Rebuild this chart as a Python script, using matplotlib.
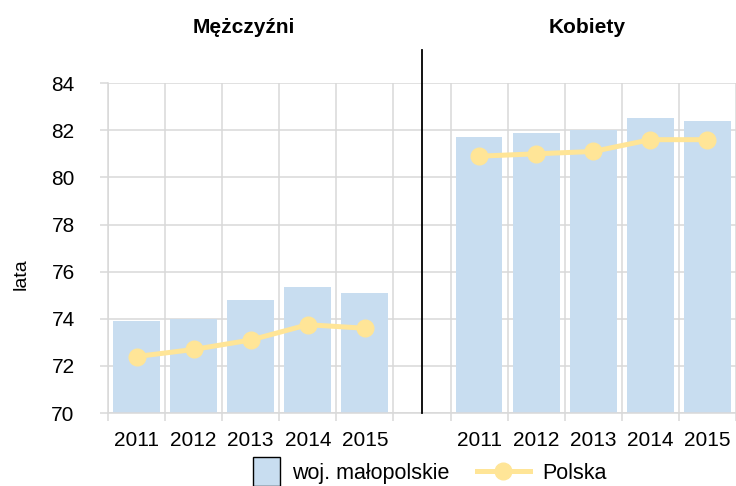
import matplotlib.pyplot as plt
import numpy as np
from matplotlib.patches import Rectangle
from matplotlib.lines import Line2D
from matplotlib.legend_handler import HandlerPatch

plt.rcParams['font.family'] = ['Liberation Sans', 'DejaVu Sans']

years = ['2011', '2012', '2013', '2014', '2015']
men_region = [73.9, 74.0, 74.8, 75.35, 75.1]
men_poland = [72.4, 72.7, 73.1, 73.75, 73.6]
women_region = [81.7, 81.9, 82.0, 82.5, 82.4]
women_poland = [80.9, 81.0, 81.1, 81.6, 81.6]
yticks = [70, 72, 74, 76, 78, 80, 82, 84]

bar_col = '#C8DDF0'
line_col = '#FFE597'
grid_col = '#D9D9D9'

fig = plt.figure(figsize=(7.36, 4.86), dpi=100)
ax = fig.add_axes([0.1467, 0.150, 0.8533, 0.679])

xm = np.arange(len(years))
xw = xm + len(years) + 1

ax.bar(xm, men_region, width=0.82, color=bar_col, zorder=2)
ax.bar(xw, women_region, width=0.82, color=bar_col, zorder=2)
ax.plot(xm, men_poland, color=line_col, lw=3.6, marker='o', ms=12, zorder=3)
ax.plot(xw, women_poland, color=line_col, lw=3.6, marker='o', ms=12, zorder=3)

# divider between the two groups
ax.axvline(len(years), ymin=0, ymax=1.1, color='black', lw=1.3, clip_on=False, zorder=4)

ax.set_xlim(-0.5, 2 * len(years) + 0.5)
ax.set_ylim(70, 84)
ax.set_yticks(yticks)
ax.set_xticks(list(xm) + list(xw))
ax.set_xticklabels(years + years)
ax.set_xticks(np.arange(-0.5, 2 * len(years) + 1, 1), minor=True)

ax.tick_params(axis='x', which='major', length=0, pad=13, labelsize=15)
ax.tick_params(axis='x', which='minor', length=6, width=1.1, color=grid_col)
ax.tick_params(axis='y', length=6, width=1.1, color=grid_col, pad=18, labelsize=15)
ax.grid(True, axis='y', color=grid_col, lw=1.1, zorder=0)
ax.grid(True, axis='x', which='minor', color=grid_col, lw=1.1, zorder=0)
ax.set_axisbelow(True)
for s in ['top', 'right']:
    ax.spines[s].set_visible(False)
for s in ['left', 'bottom']:
    ax.spines[s].set_color(grid_col)
    ax.spines[s].set_linewidth(1.1)

ax.set_ylabel('lata', fontsize=14)
ax.yaxis.set_label_coords(-0.125, 0.42)

fig.text(0.331, 0.944, 'Mężczyźni', ha='center', va='center', fontsize=15, fontweight='bold')
fig.text(0.798, 0.944, 'Kobiety', ha='center', va='center', fontsize=15, fontweight='bold')


def square_patch(legend, orig_handle, xdescent, ydescent, width, height, fontsize):
    return Rectangle((-xdescent + width * 0.5, -ydescent - height * 0.45),
                     width * 0.5, height * 1.9)


handles = [Rectangle((0, 0), 1, 1, facecolor=bar_col, edgecolor='black', lw=1.0),
           Line2D([], [], color=line_col, lw=3.6, marker='o', ms=12)]
fig.legend(handles, ['woj. małopolskie', 'Polska'], loc='center',
           bbox_to_anchor=(0.566, 0.026), ncol=2, frameon=False, fontsize=15.5,
           handlelength=2.5, handletextpad=0.56, columnspacing=1.25,
           handler_map={Rectangle: HandlerPatch(patch_func=square_patch)})

fig.savefig('out.png', dpi=100)
